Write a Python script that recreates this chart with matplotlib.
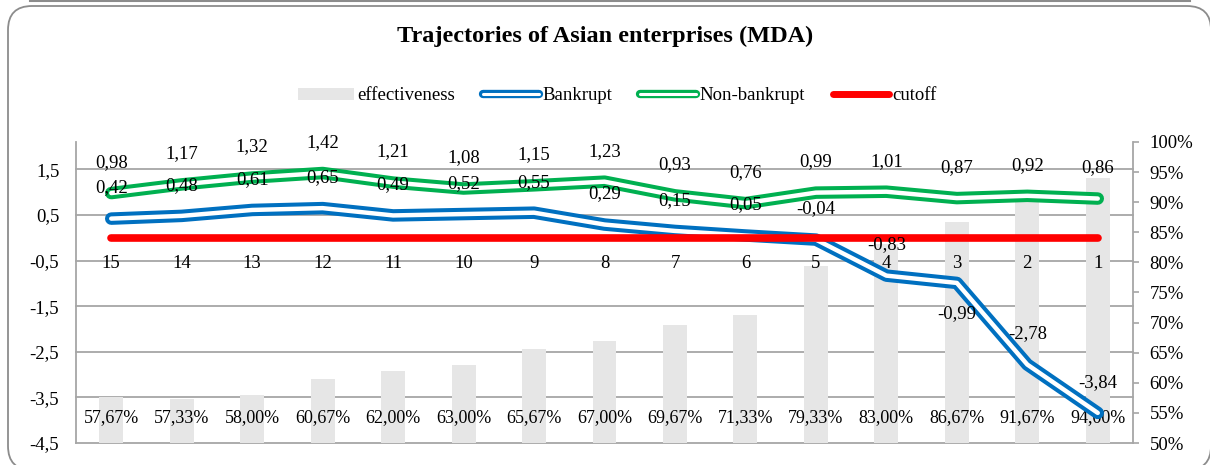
import matplotlib
matplotlib.use('Agg')
import matplotlib.pyplot as plt
import matplotlib.transforms as mtransforms
from matplotlib.patches import FancyBboxPatch, Patch
from matplotlib.lines import Line2D

# data
categories = ['15', '14', '13', '12', '11', '10', '9', '8', '7', '6', '5', '4', '3', '2', '1']
effectiveness = [57.67, 57.33, 58.00, 60.67, 62.00, 63.00, 65.67, 67.00, 69.67, 71.33,
                 79.33, 83.00, 86.67, 91.67, 94.00]
bankrupt = [0.42, 0.48, 0.61, 0.65, 0.49, 0.52, 0.55, 0.29, 0.15, 0.05,
            -0.04, -0.83, -0.99, -2.78, -3.84]
non_bankrupt = [0.98, 1.17, 1.32, 1.42, 1.21, 1.08, 1.15, 1.23, 0.93, 0.76,
                0.99, 1.01, 0.87, 0.92, 0.86]
cutoff = [0, 0, 0, 0, 0, 0, 0, 0, 0, 0, 0, 0, 0, 0, 0]
left_ticks = [-4.5, -3.5, -2.5, -1.5, -0.5, 0.5, 1.5]
right_ticks = [50, 55, 60, 65, 70, 75, 80, 85, 90, 95, 100]
# bankrupt labels that sit below their point instead of above
labels_below = ['3']

plt.rcParams['font.family'] = ['Liberation Serif', 'DejaVu Serif']
FS = 13.5
GRID = '#A6A6A6'
BLUE = '#0070C0'
GREEN = '#00B050'
RED = '#FF0000'
BAR = '#E6E6E6'


def fmt(v):
    return f'{v:.2f}'.replace('.', ',')


fig = plt.figure(figsize=(12.1, 4.65), dpi=100)

# frame around the chart (pixel coordinates)
bg = fig.add_axes([0, 0, 1, 1], zorder=-10)
bg.set_xlim(0, 1210)
bg.set_ylim(465, 0)
bg.axis('off')
bg.add_patch(FancyBboxPatch((8, 6), 1203, 464, boxstyle='round,pad=0,rounding_size=24',
                            fc='white', ec='#8C8C8C', lw=1.3))
bg.plot([30, 1190], [0.8, 0.8], color='#8C8C8C', lw=1.5)

rect = [76 / 1210, 1 - 443 / 465, (1133 - 76) / 1210, (443 - 142) / 465]
ax2 = fig.add_axes(rect)          # bars, right axis
ax = fig.add_axes(rect, sharex=ax2)  # lines, left axis
ax.set_zorder(2)
ax.patch.set_visible(False)
ax2.patch.set_visible(False)

x = list(range(len(categories)))

ax.set_xlim(-0.5, len(categories) - 0.5)
ax.set_ylim(-4.5, 2.1)
ax2.set_ylim(50, 100)

# gridlines follow the left axis but sit behind the bars
grid_tr = mtransforms.blended_transform_factory(ax2.transAxes, ax.transData)
for v in left_ticks:
    ax2.plot([0, 1], [v, v], color=GRID, lw=1.3, transform=grid_tr, zorder=0, clip_on=False)

ax2.bar(x, [e - 50 for e in effectiveness], bottom=50, width=0.34, color=BAR, zorder=2)
for xi, e in zip(x, effectiveness):
    ax2.annotate(fmt(e) + '%', (xi, 50), xytext=(0, 18.5), textcoords='offset points',
                 ha='center', va='center', fontsize=13, zorder=3)

# double (compound) lines
for vals, col in [(bankrupt, BLUE), (non_bankrupt, GREEN)]:
    ax.plot(x, vals, color=col, lw=9, solid_capstyle='round', solid_joinstyle='round', zorder=3)
    ax.plot(x, vals, color='white', lw=3.2, solid_capstyle='round', solid_joinstyle='round', zorder=3)
ax.plot(x, cutoff, color=RED, lw=5.5, solid_capstyle='round', zorder=4)

for xi, v in zip(x, non_bankrupt):
    ax.annotate(fmt(v), (xi, v), xytext=(0, 22), textcoords='offset points',
                ha='center', va='center', fontsize=FS, zorder=5)
for xi, c, v in zip(x, categories, bankrupt):
    dy = -22 if c in labels_below else 22
    ax.annotate(fmt(v), (xi, v), xytext=(0, dy), textcoords='offset points',
                ha='center', va='center', fontsize=FS, zorder=5)

# category labels next to the horizontal axis at 0
for xi, c in zip(x, categories):
    ax.annotate(c, (xi, 0), xytext=(0, -18.5), textcoords='offset points',
                ha='center', va='center', fontsize=FS, zorder=5)

ax.set_xticks([])
ax2.set_xticks([])
ax.set_yticks(left_ticks)
ax.set_yticklabels([f'{v:.1f}'.replace('.', ',') for v in left_ticks], fontsize=FS)
ax.tick_params(axis='y', length=0, pad=12)
ax2.yaxis.tick_right()
ax2.set_yticks(right_ticks)
ax2.set_yticklabels([f'{t}%' for t in right_ticks], fontsize=FS)
ax2.tick_params(axis='y', length=4, width=1.2, color=GRID, pad=8, direction='out')

for a in (ax, ax2):
    for s in a.spines.values():
        s.set_visible(False)
ax.spines['left'].set_visible(True)
ax.spines['left'].set_color(GRID)
ax.spines['left'].set_linewidth(1.3)
ax2.spines['right'].set_visible(True)
ax2.spines['right'].set_color(GRID)
ax2.spines['right'].set_linewidth(1.3)

fig.text(0.5, 1 - 36 / 465, 'Trajectories of Asian enterprises (MDA)', ha='center', va='center',
         fontsize=17.5, fontweight='bold')

h_bar = Patch(facecolor=BAR, edgecolor='none')
h_b = (Line2D([], [], color=BLUE, lw=6, solid_capstyle='round'),
       Line2D([], [], color='white', lw=2.2, solid_capstyle='round'))
h_g = (Line2D([], [], color=GREEN, lw=6, solid_capstyle='round'),
       Line2D([], [], color='white', lw=2.2, solid_capstyle='round'))
h_c = Line2D([], [], color=RED, lw=5, solid_capstyle='round')
fig.legend([h_bar, h_b, h_g, h_c], ['effectiveness', 'Bankrupt', 'Non-bankrupt', 'cutoff'],
           loc='center', bbox_to_anchor=(0.51, 1 - 96 / 465), ncol=4, frameon=False,
           fontsize=FS, handlelength=3.0, handletextpad=0.15, columnspacing=1.5, handleheight=0.6)

fig.savefig('out.png', dpi=100)
